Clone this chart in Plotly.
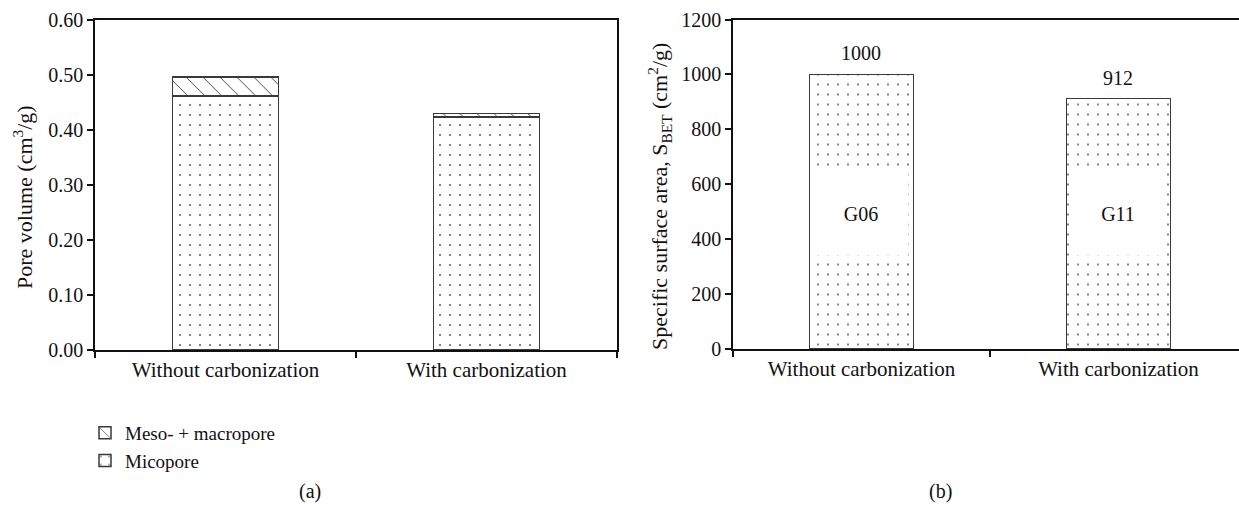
import plotly.graph_objects as go

# Pore structure of the two samples
categories = ["Without carbonization", "With carbonization"]
micropore = [0.462, 0.424]
meso_macropore = [0.034, 0.006]

# BET specific surface area
surface_area = [1000, 912]
sample_names = ["G06", "G11"]
name_label_level = [490, 490]

FONT = "Liberation Serif"
W, H = 1239, 505
EDGE = "#3a3a3a"
INK = "#111111"

DOTS = dict(shape=".", size=10, solidity=0.035, fgcolor="#666666", bgcolor="white")
HATCH = dict(shape="\\", size=12, solidity=0.07, fgcolor="#222222", bgcolor="white")

fig = go.Figure()

# ---- panel (a): stacked pore volume ----
fig.add_trace(go.Bar(
    x=categories, y=micropore, name="Micopore",
    xaxis="x", yaxis="y",
    marker=dict(color="white", line=dict(color=EDGE, width=1.5), pattern=DOTS),
))
fig.add_trace(go.Bar(
    x=categories, y=meso_macropore, name="Meso- + macropore",
    xaxis="x", yaxis="y",
    marker=dict(color="white", line=dict(color=EDGE, width=1.5), pattern=HATCH),
))

# ---- panel (b): surface area ----
fig.add_trace(go.Bar(
    x=categories, y=surface_area, showlegend=False,
    xaxis="x2", yaxis="y2",
    marker=dict(color="white", line=dict(color=EDGE, width=1.5), pattern=DOTS),
))

annotations = []
for cat, val in zip(categories, surface_area):
    annotations.append(dict(x=cat, y=val, xref="x2", yref="y2", text=str(val),
                            showarrow=False, yanchor="bottom", yshift=8,
                            font=dict(family=FONT, size=20, color=INK)))
for cat, nm, lvl in zip(categories, sample_names, name_label_level):
    annotations.append(dict(x=cat, y=lvl, xref="x2", yref="y2", text=nm,
                            showarrow=False, bgcolor="white", width=92, height=80,
                            font=dict(family=FONT, size=20, color=INK)))

# axis titles
annotations.append(dict(x=23 / W, y=1 - 197 / H, xref="paper", yref="paper",
                        xanchor="center", yanchor="middle",
                        text="Pore volume (cm<sup>3</sup>/g)", textangle=-90,
                        showarrow=False, font=dict(family=FONT, size=22, color=INK)))
annotations.append(dict(x=659 / W, y=1 - 197 / H, xref="paper", yref="paper",
                        xanchor="center", yanchor="middle",
                        text="Specific surface area, S<sub>BET</sub> (cm<sup>2</sup>/g)",
                        textangle=-90, showarrow=False,
                        font=dict(family=FONT, size=22, color=INK)))
# panel captions
for cap, cx in (("(a)", 310), ("(b)", 940)):
    annotations.append(dict(x=cx / W, y=1 - 491 / H, xref="paper", yref="paper",
                            xanchor="center", yanchor="middle", text=cap,
                            showarrow=False, font=dict(family=FONT, size=20, color=INK)))

axis_common = dict(showline=True, linecolor=INK, linewidth=1.6, mirror=True,
                   ticks="outside", ticklen=6, tickwidth=1.5, tickcolor=INK,
                   showgrid=False, zeroline=False, automargin=False,
                   tickfont=dict(family=FONT, size=20, color=INK))
xfont = dict(tickfont=dict(family=FONT, size=21, color=INK))

fig.update_layout(
    template="none",
    width=W, height=H,
    margin=dict(l=0, r=0, t=0, b=0, pad=0),
    paper_bgcolor="white", plot_bgcolor="white",
    font=dict(family=FONT, color=INK),
    barmode="stack", bargap=0.595,
    xaxis=dict(domain=[95 / W, 617 / W], anchor="y", type="category",
               range=[-0.5, 1.5], tickson="boundaries", **{**axis_common, **xfont}),
    yaxis=dict(domain=[1 - 350 / H, 1 - 20 / H], anchor="x", range=[0, 0.6],
               dtick=0.1, tickformat=".2f", **axis_common),
    xaxis2=dict(domain=[733 / W, 1.0], anchor="y2", type="category",
                range=[-0.5, 1.469], tickson="boundaries", **{**axis_common, **xfont}),
    yaxis2=dict(domain=[1 - 349 / H, 1 - 19.5 / H], anchor="x2", range=[0, 1200],
                dtick=200, **{**axis_common, "mirror": False}),
    legend=dict(x=85 / W, y=1 - 414 / H, xanchor="left", yanchor="top",
                traceorder="reversed", bgcolor="rgba(0,0,0,0)", borderwidth=0,
                font=dict(family=FONT, size=19, color=INK),
                itemwidth=30, tracegroupgap=0),
    annotations=annotations,
    showlegend=True,
)

fig.write_html("out.html")
